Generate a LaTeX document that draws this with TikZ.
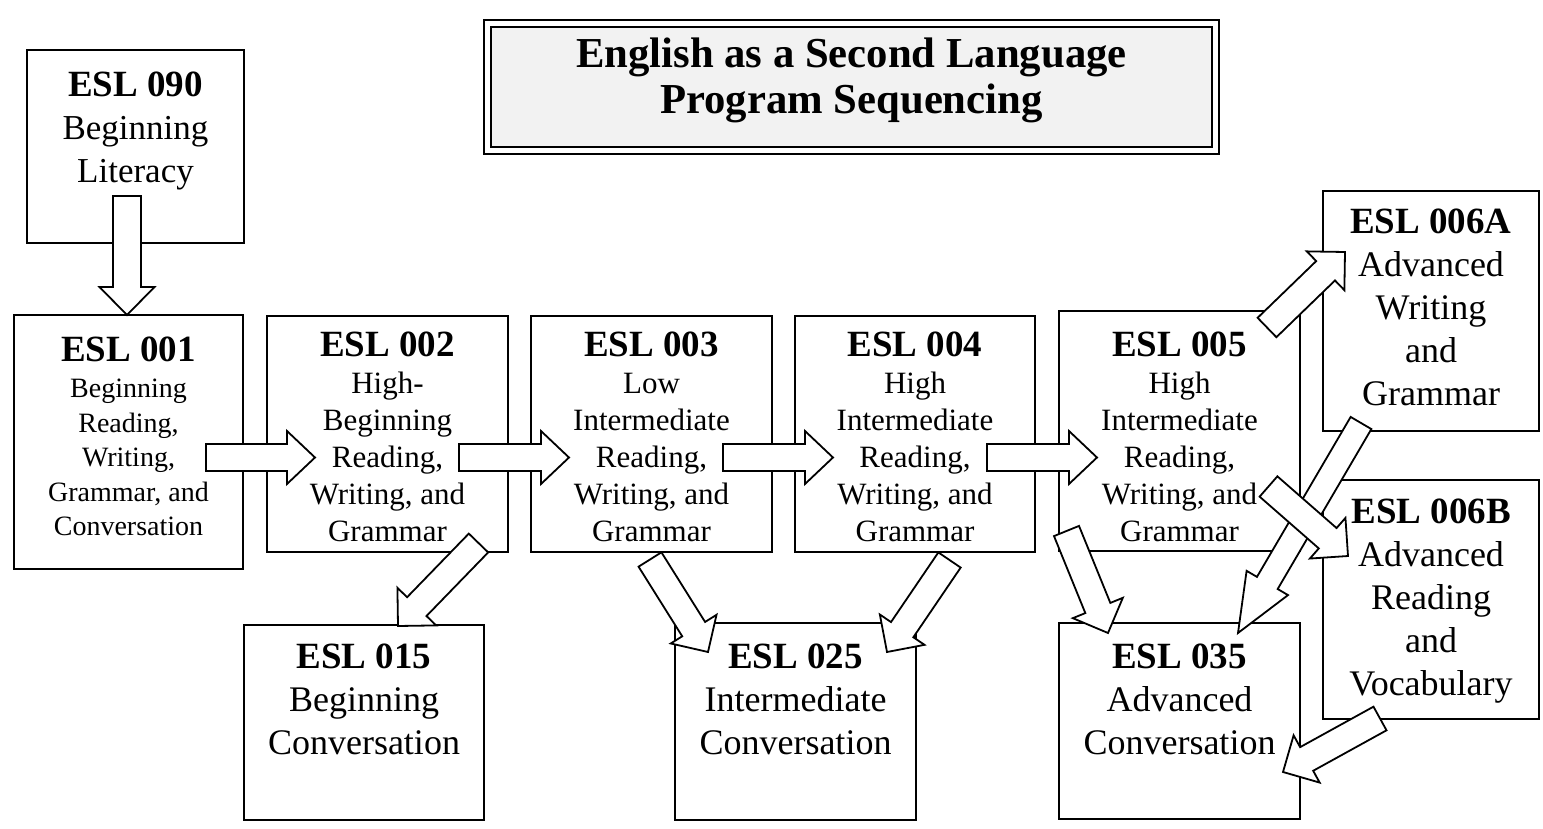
\documentclass[tikz,border=0pt]{standalone}
\usepackage{fontspec}
\setmainfont{Liberation Serif}
\usetikzlibrary{calc}

% block arrow: #1 tail centre, #2 tip, #3 shaft half-width, #4 head half-width, #5 head length
\newcommand\blockarrow[5]{%
  \coordinate (ba-head) at ($(#2)!#5!(#1)$);
  \draw[blockarrowline]
    ($(#1)!#3!90:(#2)$) -- ($(ba-head)!#3!-90:(#1)$) -- ($(ba-head)!#4!-90:(#1)$)
    -- (#2) -- ($(ba-head)!#4!90:(#1)$) -- ($(ba-head)!#3!90:(#1)$)
    -- ($(#1)!#3!-90:(#2)$) -- cycle;
}

\tikzset{
  course/.style={draw, line width=1.8pt, fill=white, rectangle, inner sep=0pt},
  coursetext/.style={anchor=north, align=center, inner sep=0pt},
  blockarrowline/.style={draw, fill=white, line width=1.8pt, line join=miter},
  codefont/.style={font=\fontsize{37}{43}\selectfont\bfseries},
}
\newcommand\code[1]{{\fontsize{37}{43}\selectfont\bfseries #1}}
\definecolor{titlegray}{HTML}{F2F2F2}

\begin{document}
\begin{tikzpicture}[x=1pt,y=-1pt]
\useasboundingbox (0,0) rectangle (1543,829);
\fill[white] (0,0) rectangle (1543,829);

% title panel with double frame
\node[draw, line width=1.8pt, minimum width=735pt, minimum height=134pt, inner sep=0pt] (titleframe) at (851.5,87) {};
\node[draw, line width=1.8pt, fill=titlegray, minimum width=721pt, minimum height=120pt, inner sep=0pt] (titlepanel) at (851.5,87) {};
\node[coursetext, font=\fontsize{42.7}{46}\selectfont\bfseries] (title) at (851.5,38)
  {English as a Second Language\\Program Sequencing};

% course boxes
\node[course, minimum width=217pt, minimum height=193pt] (b090) at (135.5,146.5) {};
\node[course, minimum width=229pt, minimum height=254pt] (b001) at (128.5,442) {};
\node[course, minimum width=241pt, minimum height=236pt] (b002) at (387.5,434) {};
\node[course, minimum width=241pt, minimum height=236pt] (b003) at (651.5,434) {};
\node[course, minimum width=240pt, minimum height=236pt] (b004) at (915,434) {};
\node[course, minimum width=241pt, minimum height=240pt] (b005) at (1179.5,431) {};
\node[course, minimum width=216pt, minimum height=240pt] (b06A) at (1431,311) {};
\node[course, minimum width=216pt, minimum height=239pt] (b06B) at (1431,599.5) {};
\node[course, minimum width=240pt, minimum height=195pt] (b015) at (364,722.5) {};
\node[course, minimum width=241pt, minimum height=197pt] (b025) at (795.5,721.5) {};
\node[course, minimum width=241pt, minimum height=196pt] (b035) at (1179.5,721) {};

% course texts
\node[coursetext, font=\fontsize{35}{43}\selectfont] (t090) at ([yshift=-22.5pt]b090.north)
  {\code{ESL 090}\\Beginning\\Literacy};
\node[coursetext, font=\fontsize{28}{34.5}\selectfont] (t001) at ([yshift=-22.5pt]b001.north)
  {\code{ESL 001}\\[2pt]Beginning\\Reading,\\Writing,\\Grammar, and\\Conversation};
\node[coursetext, font=\fontsize{31}{37}\selectfont] (t002) at ([yshift=-16.5pt]b002.north)
  {\code{ESL 002}\\High-\\Beginning\\Reading,\\Writing, and\\Grammar};
\node[coursetext, font=\fontsize{31}{37}\selectfont] (t003) at ([yshift=-16.5pt]b003.north)
  {\code{ESL 003}\\Low\\Intermediate\\Reading,\\Writing, and\\Grammar};
\node[coursetext, font=\fontsize{31}{37}\selectfont] (t004) at ([yshift=-16.5pt]b004.north)
  {\code{ESL 004}\\High\\Intermediate\\Reading,\\Writing, and\\Grammar};
\node[coursetext, font=\fontsize{31}{37}\selectfont] (t005) at ([yshift=-21.5pt]b005.north)
  {\code{ESL 005}\\High\\Intermediate\\Reading,\\Writing, and\\Grammar};
\node[coursetext, font=\fontsize{36}{43}\selectfont] (t06A) at ([yshift=-18.5pt]b06A.north)
  {\code{ESL 006A}\\Advanced\\Writing\\and\\Grammar};
\node[coursetext, font=\fontsize{36}{43}\selectfont] (t06B) at ([yshift=-19.5pt]b06B.north)
  {\code{ESL 006B}\\Advanced\\Reading\\and\\Vocabulary};
\node[coursetext, font=\fontsize{36}{43}\selectfont] (t015) at ([yshift=-19.5pt]b015.north)
  {\code{ESL 015}\\Beginning\\Conversation};
\node[coursetext, font=\fontsize{36}{43}\selectfont] (t025) at ([yshift=-21.5pt]b025.north)
  {\code{ESL 025}\\Intermediate\\Conversation};
\node[coursetext, font=\fontsize{36}{43}\selectfont] (t035) at ([yshift=-21.5pt]b035.north)
  {\code{ESL 035}\\Advanced\\Conversation};

% arrow end points
\coordinate (a090s) at (127,196);     \coordinate (a090e) at (127,315);
\coordinate (a001s) at (206,457.5);   \coordinate (a001e) at (315,457.5);
\coordinate (a002s) at (459,457.5);   \coordinate (a002e) at (569,457.5);
\coordinate (a003s) at (723,457.5);   \coordinate (a003e) at (833,457.5);
\coordinate (a004s) at (987,457.5);   \coordinate (a004e) at (1097,457.5);
\coordinate (a015s) at (478.5,543);   \coordinate (a015e) at (398,626);
\coordinate (a325s) at (650,559.5);   \coordinate (a325e) at (708,652);
\coordinate (a425s) at (949.5,560);   \coordinate (a425e) at (887,652);
\coordinate (a6As) at (1267,327.5);   \coordinate (a6Ae) at (1345,252);
\coordinate (a535s) at (1066.5,531);  \coordinate (a535e) at (1108,633);
\coordinate (a6A35s) at (1361,423);   \coordinate (a6A35e) at (1238,633);
\coordinate (a6Bs) at (1268.5,486.5); \coordinate (a6Be) at (1348,556);
\coordinate (a6B35s) at (1380,718.5); \coordinate (a6B35e) at (1283,772);

% sequence arrows
\blockarrow{a090s}{a090e}{14pt}{27.5pt}{28pt}
\blockarrow{a001s}{a001e}{13.5pt}{26.5pt}{28pt}
\blockarrow{a002s}{a002e}{13.5pt}{26.5pt}{28pt}
\blockarrow{a003s}{a003e}{13.5pt}{26.5pt}{28pt}
\blockarrow{a004s}{a004e}{13.5pt}{26.5pt}{28pt}
\blockarrow{a015s}{a015e}{13.5pt}{27pt}{27pt}
\blockarrow{a325s}{a325e}{13.5pt}{27pt}{27pt}
\blockarrow{a425s}{a425e}{13.5pt}{27pt}{27pt}
\blockarrow{a6As}{a6Ae}{13.5pt}{27pt}{27pt}
\blockarrow{a535s}{a535e}{13.5pt}{27pt}{27pt}
\blockarrow{a6A35s}{a6A35e}{12pt}{24pt}{58pt}
\blockarrow{a6Bs}{a6Be}{13.5pt}{27pt}{27pt}
\blockarrow{a6B35s}{a6B35e}{13.5pt}{27pt}{27pt}
\end{tikzpicture}
\end{document}
